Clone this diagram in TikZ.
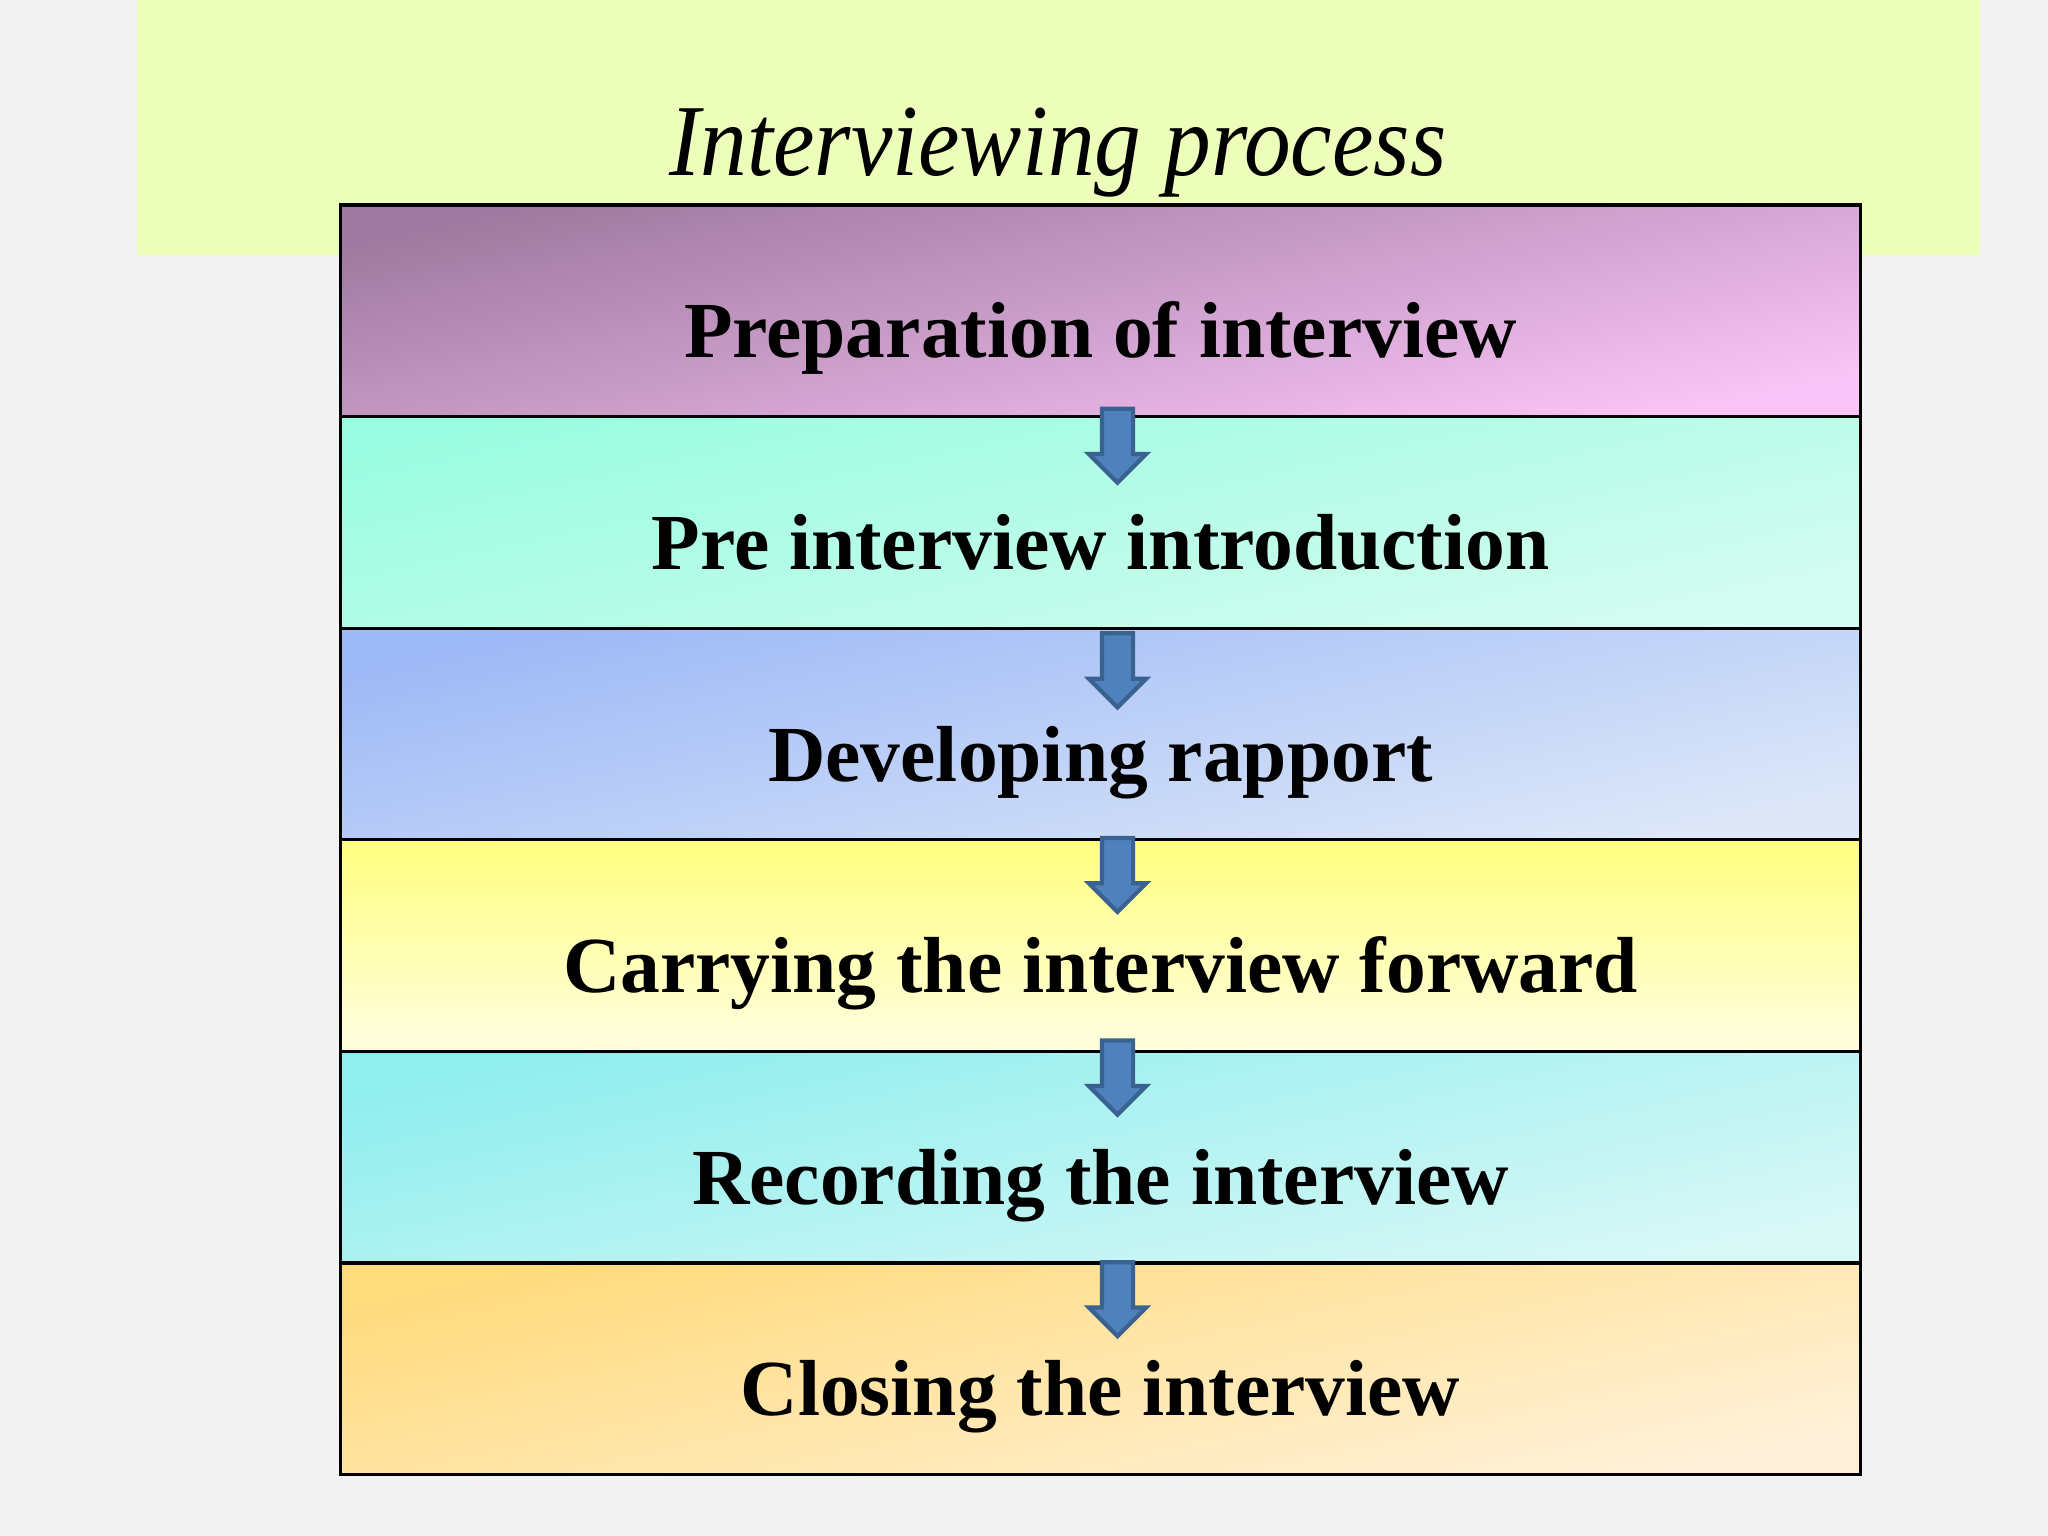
\documentclass[tikz,border=0pt]{standalone}
\usepackage{fontspec}
\setmainfont{Liberation Serif}
\usetikzlibrary{positioning}
\usetikzlibrary{calc}
\usetikzlibrary{shapes.arrows}

\definecolor{pagegray}{HTML}{F2F2F2}
\definecolor{titleband}{HTML}{EDFDBA}
\definecolor{arrowblue}{HTML}{4F81BD}
\definecolor{arrowedge}{HTML}{3A6290}
\definecolor{preptop}{RGB}{160,122,160}
\definecolor{prepbot}{RGB}{249,196,247}
\definecolor{introtop}{RGB}{154,252,224}
\definecolor{introbot}{RGB}{212,252,240}
\definecolor{rapptop}{RGB}{157,185,246}
\definecolor{rappbot}{RGB}{221,231,248}
\definecolor{fwdtop}{RGB}{255,255,128}
\definecolor{fwdbot}{RGB}{255,254,224}
\definecolor{rectop}{RGB}{144,238,238}
\definecolor{recbot}{RGB}{216,248,246}
\definecolor{closetop}{RGB}{255,219,125}
\definecolor{closebot}{RGB}{255,241,217}

\tikzset{
  stage/.style={draw=black, line width=0.9pt, outer sep=0pt, inner sep=0pt,
    minimum width=15.19cm, minimum height=2.115cm,
    text height=0.94cm, text depth=0pt,
    font=\bfseries\fontsize{22.6}{27}\selectfont},
  tint/.style 2 args={top color=#1, bottom color=#2, shading angle=12},
  downarrow/.style={single arrow, draw=arrowedge, fill=arrowblue, line width=1.2pt,
    rotate=-90, anchor=tail, inner sep=0.135cm, minimum height=0.74cm,
    single arrow head extend=0.13cm}
}

\begin{document}
\begin{tikzpicture}[x=0.01cm, y=-0.01cm]
\useasboundingbox (0,0) rectangle (2048,1536);
\fill[pagegray] (0,0) rectangle (2048,1536);
\fill[titleband] (137,0) rectangle (1980,255);

\node(title)[anchor=base, font=\itshape\fontsize{29}{34}\selectfont] at (1058,175) {\scalebox{0.915}[1]{Interviewing process}};

\node(prep)[stage, tint={preptop}{prepbot}] at (1100.5,310.75) {Preparation of interview};
\node(intro)[stage, below=0cm of prep, tint={introtop}{introbot}] {Pre interview introduction};
\node(rapport)[stage, below=0cm of intro, tint={rapptop}{rappbot}] {Developing rapport};
\node(forward)[stage, below=0cm of rapport, top color=fwdtop, bottom color=fwdbot] {Carrying the interview forward};
\node(record)[stage, below=0cm of forward, tint={rectop}{recbot}] {Recording the interview};
\node(closing)[stage, below=0cm of record, tint={closetop}{closebot}] {Closing the interview};

% block arrows between the stages
\node(a1)[downarrow] at ($(prep.south)+(17,-10)$) {};
\node(a2)[downarrow] at ($(intro.south)+(17,3)$) {};
\node(a3)[downarrow] at ($(rapport.south)+(17,-4)$) {};
\node(a4)[downarrow] at ($(forward.south)+(17,-13)$) {};
\node(a5)[downarrow] at ($(record.south)+(17,-3)$) {};
\end{tikzpicture}
\end{document}
